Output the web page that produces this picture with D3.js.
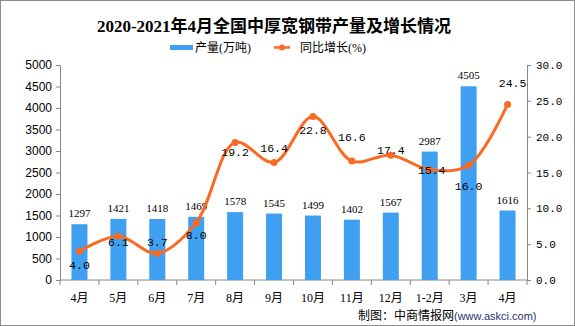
<!DOCTYPE html>
<html>
<head>
<meta charset="utf-8">
<script src="https://cdn.jsdelivr.net/npm/d3@7"></script>
<style>
  body { margin: 0; background: #fff; }
  #plot { width: 575px; height: 326px; }
  text { fill: #000; }
</style>
</head>
<body>
<div id="plot"></div>
<script>
const months = ["4月", "5月", "6月", "7月", "8月", "9月", "10月", "11月", "12月", "1-2月", "3月", "4月"];
const output = [1297, 1421, 1418, 1469, 1578, 1545, 1499, 1402, 1567, 2987, 4505, 1616];
const growth = [4.0, 6.1, 3.7, 8.0, 19.2, 16.4, 22.8, 16.6, 17.4, 15.4, 16.0, 24.5];
// where each growth label sits relative to its point (px)
const growthLabelDy = [14, 6, -11, 12, 10, -14, 13, -24, -5, 0, 21, -21];
const growthLabelDx = [0, 0, 0, 0, 0, 0, 0, 0, 0, 2, 0, 5];

const width = 575, height = 326;
const margin = {top: 65, right: 48, bottom: 46, left: 60};
const innerW = width - margin.left - margin.right;
const innerH = height - margin.top - margin.bottom;

const svg = d3.select("#plot")
  .append("svg")
  .attr("width", width)
  .attr("height", height);

svg.append("rect")
  .attr("x", 0.5).attr("y", 0.5)
  .attr("width", width - 1).attr("height", height - 1)
  .attr("fill", "#fff")
  .attr("stroke", "#8c8c8c");

// title
svg.append("text")
  .attr("x", 274)
  .attr("y", 32)
  .attr("text-anchor", "middle")
  .style("font-family", "'Liberation Serif', 'Noto Sans CJK SC'")
  .style("font-size", "17px")
  .style("font-weight", "bold")
  .text("2020-2021年4月全国中厚宽钢带产量及增长情况");

// legend
const legend = svg.append("g").style("font-family", "'Liberation Serif', 'Noto Sans CJK SC'").style("font-size", "12px");
legend.append("rect").attr("x", 170).attr("y", 45).attr("width", 23).attr("height", 5).attr("fill", "#3f9ff0");
legend.append("text").attr("x", 195).attr("y", 52).text("产量(万吨)");
legend.append("line").attr("x1", 274).attr("x2", 290).attr("y1", 47.5).attr("y2", 47.5)
  .attr("stroke", "#fc6a22").attr("stroke-width", 2.5);
legend.append("circle").attr("cx", 282).attr("cy", 47.5).attr("r", 3).attr("fill", "#fc6a22");
legend.append("text").attr("x", 300).attr("y", 52).text("同比增长(%)");

const g = svg.append("g").attr("transform", `translate(${margin.left},${margin.top})`);

const x = d3.scaleBand().domain(d3.range(months.length)).range([0, innerW]).paddingInner(0).paddingOuter(0);
const yL = d3.scaleLinear().domain([0, 5000]).range([innerH, 0]);
const yR = d3.scaleLinear().domain([0, 30]).range([innerH, 0]);

// axes
const leftAxis = g.append("g")
  .call(d3.axisLeft(yL).tickValues(d3.range(0, 5001, 500)).tickSize(4).tickPadding(4).tickFormat(d3.format("d")));
leftAxis.selectAll("text")
  .style("font-family", "'Liberation Sans', Arial")
  .style("font-size", "12px");

const rightAxis = g.append("g")
  .attr("transform", `translate(${innerW},0)`)
  .call(d3.axisRight(yR).tickValues(d3.range(0, 31, 5)).tickSize(4).tickPadding(5).tickFormat(d3.format(".1f")));
rightAxis.selectAll("text")
  .style("font-family", "'Liberation Mono', monospace")
  .style("font-size", "11px");

const bottom = g.append("g").attr("transform", `translate(0,${innerH})`);
bottom.append("line").attr("x1", 0).attr("x2", innerW).attr("stroke", "#888");
bottom.selectAll(".tick-mark")
  .data(d3.range(months.length + 1))
  .join("line")
  .attr("class", "tick-mark")
  .attr("x1", i => i * x.bandwidth()).attr("x2", i => i * x.bandwidth())
  .attr("y1", 0).attr("y2", 5)
  .attr("stroke", "#888");
bottom.selectAll(".month")
  .data(months)
  .join("text")
  .attr("class", "month")
  .attr("x", (d, i) => x(i) + x.bandwidth() / 2)
  .attr("y", 22)
  .attr("text-anchor", "middle")
  .style("font-family", "'Liberation Serif', 'Noto Sans CJK SC'")
  .style("font-size", "12px")
  .text(d => d);

[leftAxis, rightAxis].forEach(a => {
  a.select(".domain").attr("stroke", "#888");
  a.selectAll(".tick line").attr("stroke", "#888");
});

// bars
const barW = 16;
g.selectAll(".bar")
  .data(output)
  .join("rect")
  .attr("class", "bar")
  .attr("x", (d, i) => x(i) + x.bandwidth() / 2 - barW / 2)
  .attr("y", d => yL(d))
  .attr("width", barW)
  .attr("height", d => innerH - yL(d))
  .attr("fill", "#3f9ff0");

g.selectAll(".bar-label")
  .data(output)
  .join("text")
  .attr("class", "bar-label")
  .attr("x", (d, i) => x(i) + x.bandwidth() / 2)
  .attr("y", d => yL(d) - 7)
  .attr("text-anchor", "middle")
  .style("font-family", "'Liberation Serif', serif")
  .style("font-size", "11px")
  .text(d => d);

// growth line
const line = d3.line()
  .x((d, i) => x(i) + x.bandwidth() / 2)
  .y(d => yR(d))
  .curve(d3.curveCatmullRom.alpha(0.5));

g.append("path")
  .datum(growth)
  .attr("d", line)
  .attr("fill", "none")
  .attr("stroke", "#fc6a22")
  .attr("stroke-width", 3);

g.selectAll(".dot")
  .data(growth)
  .join("circle")
  .attr("class", "dot")
  .attr("cx", (d, i) => x(i) + x.bandwidth() / 2)
  .attr("cy", d => yR(d))
  .attr("r", 3.5)
  .attr("fill", "#fc6a22");

g.selectAll(".growth-label")
  .data(growth)
  .join("text")
  .attr("class", "growth-label")
  .attr("x", (d, i) => x(i) + x.bandwidth() / 2 + growthLabelDx[i])
  .attr("y", (d, i) => yR(d) + growthLabelDy[i] + 4)
  .attr("text-anchor", "middle")
  .style("font-family", "'Liberation Mono', monospace")
  .style("font-size", "11.5px")
  .text(d => d.toFixed(1));

// footer
const foot = svg.append("text").attr("x", 358).attr("y", 320);
foot.append("tspan")
  .style("font-family", "'Noto Sans CJK SC'")
  .style("font-size", "12px")
  .text("制图：中商情报网");
foot.append("tspan")
  .style("font-family", "'Liberation Sans', Arial")
  .style("font-size", "11px")
  .style("fill", "#1f2f73")
  .text("(www.askci.com)");
</script>
</body>
</html>
